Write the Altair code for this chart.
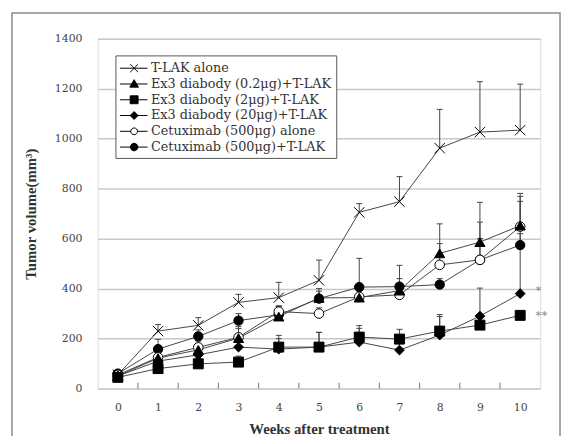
import altair as alt
import pandas as pd

weeks = list(range(11))
series = [
    "T-LAK alone",
    "Ex3 diabody (0.2μg)+T-LAK",
    "Ex3 diabody (2μg)+T-LAK",
    "Ex3 diabody (20μg)+T-LAK",
    "Cetuximab (500μg) alone",
    "Cetuximab (500μg)+T-LAK",
]
tlak_mean = [55, 230, 253, 345, 364, 433, 705, 748, 962, 1026, 1034]
tlak_top = [65, 256, 284, 377, 425, 514, 740, 848, 1117, 1228, 1218]
ex02_mean = [50, 122, 155, 202, 288, 363, 364, 392, 541, 586, 652]
ex02_top = [62, 150, 180, 248, 330, 400, 400, 440, 659, 745, 781]
ex2_mean = [45, 80, 99, 106, 166, 166, 206, 198, 230, 254, 293]
ex2_top = [55, 100, 120, 130, 213, 225, 252, 237, 296, 270, 300]
ex20_mean = [50, 110, 135, 166, 158, 166, 186, 154, 214, 290, 380]
ex20_top = [60, 125, 150, 190, 200, 225, 241, 180, 288, 402, 749]
cet_mean = [55, 125, 165, 205, 308, 300, 367, 375, 495, 515, 648]
cet_top = [65, 150, 190, 240, 330, 323, 400, 400, 580, 666, 769]
cetlak_mean = [60, 158, 209, 272, 295, 360, 406, 408, 416, 515, 574]
cetlak_top = [72, 197, 235, 300, 330, 390, 521, 493, 440, 600, 620]
half_ticks = [0.5, 1.5, 2.5, 3.5, 4.5, 5.5, 6.5, 7.5, 8.5, 9.5]
y_ticks = [0, 200, 400, 600, 800, 1000, 1200, 1400]
notes = ["*", "**"]
note_x = [10.38, 10.38]
note_y = [395, 295]

means = [tlak_mean, ex02_mean, ex2_mean, ex20_mean, cet_mean, cetlak_mean]
tops = [tlak_top, ex02_top, ex2_top, ex20_top, cet_top, cetlak_top]
draw_rank = [5, 4, 3, 2, 1, 0]

rows = []
for s, m, t, rk in zip(series, means, tops, draw_rank):
    for w, mv, tv in zip(weeks, m, t):
        rows.append({"series": s, "week": w, "mean": mv, "top": tv, "rank": rk})
df = pd.DataFrame(rows)
pts_df = df.sort_values(["rank", "week"]).reset_index(drop=True)
tick_df = pd.DataFrame({"week": half_ticks})
note_df = pd.DataFrame({"week": note_x, "mean": note_y, "txt": notes})

FONT = "DejaVu Serif"
TFONT = "Liberation Serif"

xenc = alt.X("week:Q", scale=alt.Scale(domain=[-0.5, 10.5], nice=False, zero=False),
             axis=alt.Axis(values=weeks, ticks=False, domain=False, grid=False,
                           labelFont=FONT, labelFontSize=11, labelColor="#444",
                           labelPadding=13, title="Weeks after treatment",
                           titleFont=TFONT, titleFontSize=15, titleFontWeight="bold",
                           titleColor="#333", titlePadding=10))
yenc = alt.Y("mean:Q", scale=alt.Scale(domain=[0, 1400], nice=False),
             axis=alt.Axis(values=y_ticks, ticks=False, domain=False, grid=True,
                           gridColor="#c8c8c8", gridWidth=1.5, format="d",
                           labelFont=FONT, labelFontSize=11, labelColor="#444",
                           labelPadding=16, title="Tumor volume(mm³)",
                           titleFont=TFONT, titleFontSize=15, titleFontWeight="bold",
                           titleColor="#333", titlePadding=16))

base = alt.Chart(df)

lines = base.mark_line(color="#444", strokeWidth=1).encode(x=xenc, y=yenc, detail="series:N")
errs = base.mark_rule(color="#444", strokeWidth=1).encode(x=xenc, y=yenc, y2="top:Q")
caps = base.mark_rule(color="#444", strokeWidth=1, xOffset=-3, x2Offset=3).encode(
    x=xenc, x2="week:Q", y=alt.Y("top:Q"))

xpath = "M-1,-1L1,1M-1,1L1,-1"
shapes = [xpath, "triangle-up", "square", "diamond", "circle", "circle"]
fills = ["white", "black", "black", "black", "white", "black"]
sizes = [110, 90, 64, 90, 55, 70]

points = alt.Chart(pts_df).mark_point(stroke="black", strokeWidth=1, opacity=1).encode(
    x=xenc, y=yenc,
    shape=alt.Shape("series:N", scale=alt.Scale(domain=series, range=shapes), legend=None),
    fill=alt.Fill("series:N", scale=alt.Scale(domain=series, range=fills), legend=None),
    size=alt.Size("series:N", scale=alt.Scale(domain=series, range=sizes), legend=None),
)


def lg(kind, cx=0.7, r=0.47):
    a, b = -1.0, 2.3
    line = f"M{a},0H{b}"
    if kind == "x":
        return line + f"M{cx-r},{-r}L{cx+r},{r}M{cx-r},{r}L{cx+r},{-r}"
    if kind == "tri":
        return line + f"M{cx},{-r*1.1}L{cx+r*1.1},{r*0.8}L{cx-r*1.1},{r*0.8}Z"
    if kind == "sq":
        return line + f"M{cx-r},{-r}H{cx+r}V{r}H{cx-r}Z"
    if kind == "dia":
        return line + f"M{cx},{-r}L{cx+r},0L{cx},{r}L{cx-r},0Z"
    if kind == "ocirc":
        rr = r * 0.85
        return (f"M{a},0H{cx-rr}M{cx+rr},0H{b}"
                f"M{cx-rr},0A{rr},{rr} 0 1,0 {cx+rr},0A{rr},{rr} 0 1,0 {cx-rr},0Z")
    rr = r * 0.95
    return line + f"M{cx-rr},0A{rr},{rr} 0 1,0 {cx+rr},0A{rr},{rr} 0 1,0 {cx-rr},0Z"


legend_paths = [lg("x"), lg("tri"), lg("sq"), lg("dia"), lg("ocirc"), lg("fcirc")]

leg = alt.Legend(title=None, orient="none", legendX=18, legendY=17,
                 labelFont=FONT, labelFontSize=13, labelColor="#333",
                 symbolSize=289, symbolStrokeWidth=1, labelOffset=14,
                 padding=4, rowPadding=0, strokeColor="#555", fillColor="white",
                 labelLimit=400)
legend_layer = base.transform_filter("false").mark_point(
    stroke="black", strokeWidth=1, opacity=1).encode(
    x=xenc, y=yenc,
    shape=alt.Shape("series:N", scale=alt.Scale(domain=series, range=legend_paths), legend=leg),
    fill=alt.Fill("series:N", scale=alt.Scale(domain=series, range=fills), legend=leg),
)

ticks = alt.Chart(tick_df).mark_rule(color="#777", strokeWidth=1).encode(
    x=xenc, y=alt.value(355), y2=alt.value(349))

notes_layer = alt.Chart(note_df).mark_text(
    align="left", baseline="middle", color="#888", fontSize=12, font=FONT).encode(
    x=xenc, y=yenc, text="txt:N")

frame = alt.Chart(alt.Data(values=[{"a": 1}])).mark_rect(
    fillOpacity=0, stroke="#8a8a8a", strokeWidth=1.5).encode(
    x=alt.value(-87), x2=alt.value(469), y=alt.value(-26), y2=alt.value(410))

chart = alt.layer(frame, lines, errs, caps, ticks, points, legend_layer, notes_layer).resolve_scale(
    shape="independent", fill="independent"
).properties(
    width=449, height=355,
    autosize=alt.AutoSizeParams(type="none"),
    padding={"left": 91, "top": 28, "right": 21, "bottom": 45},
).configure_view(stroke="#888", strokeWidth=1.5).configure(background="white")

chart.save("out.html", embed_options={"renderer": "svg", "actions": False})
